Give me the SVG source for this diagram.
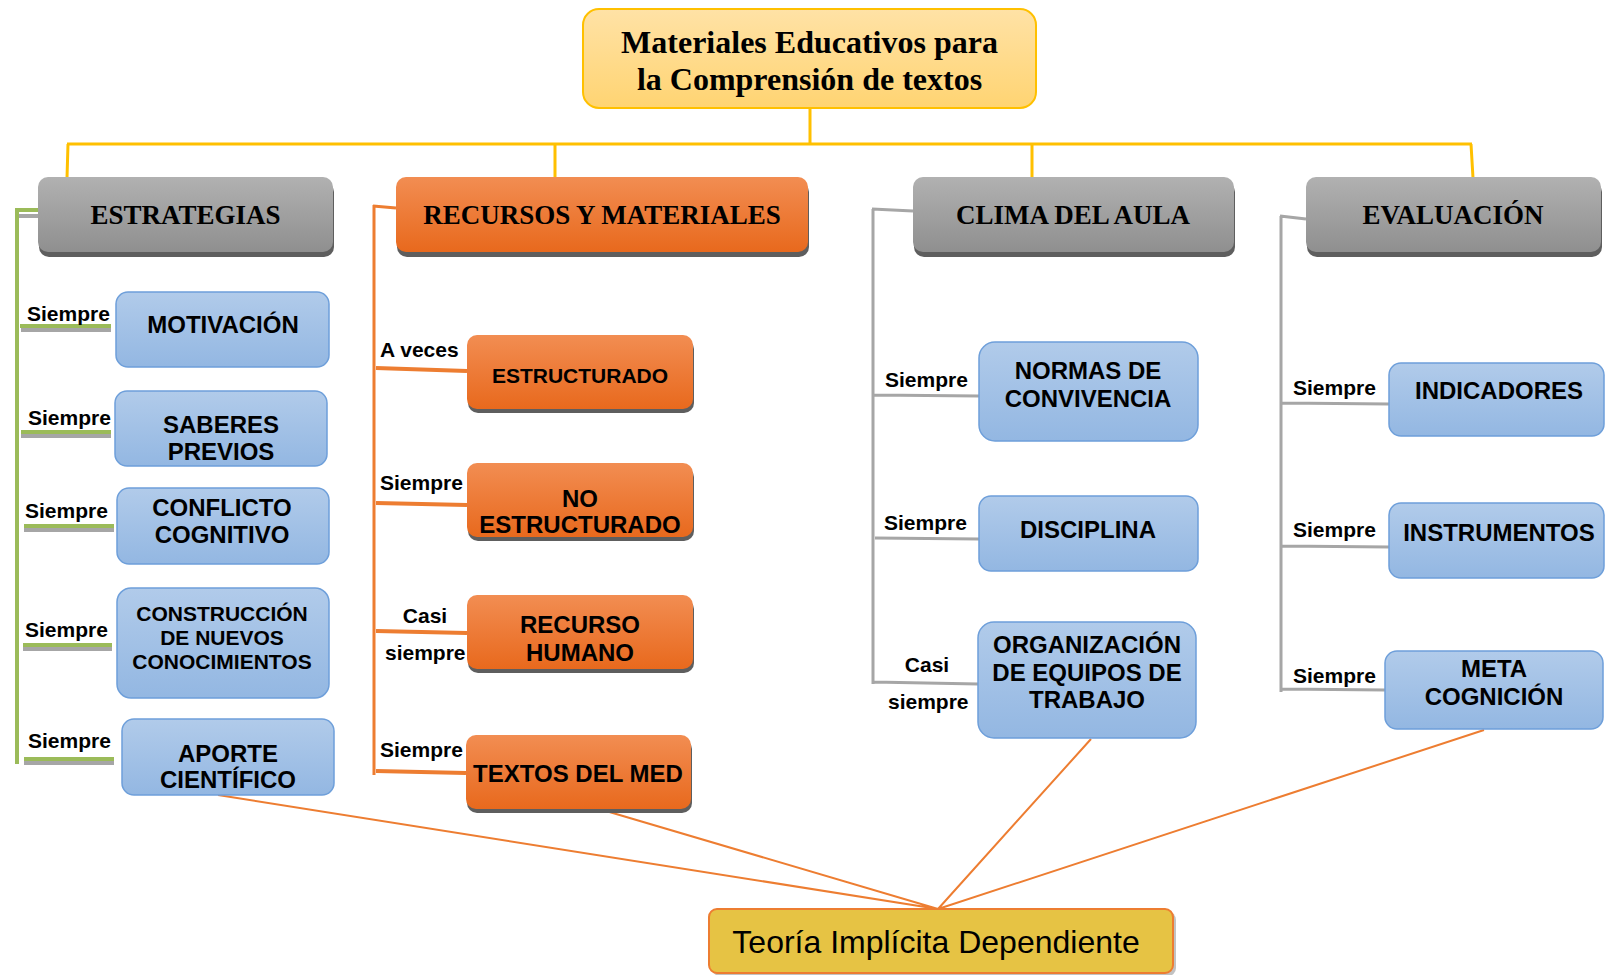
<svg xmlns="http://www.w3.org/2000/svg" width="1605" height="975" viewBox="0 0 1605 975">
<defs>
<linearGradient id="gGray" x1="0" y1="0" x2="0" y2="1"><stop offset="0" stop-color="#B1B1B1"/><stop offset="1" stop-color="#8F8F8F"/></linearGradient>
<linearGradient id="gOrange" x1="0" y1="0" x2="0" y2="1"><stop offset="0" stop-color="#F28D52"/><stop offset="1" stop-color="#E8691D"/></linearGradient>
<linearGradient id="gBlue" x1="0" y1="0" x2="0" y2="1"><stop offset="0" stop-color="#B1CBEA"/><stop offset="1" stop-color="#93B7E2"/></linearGradient>
<linearGradient id="gTitle" x1="0" y1="0" x2="0" y2="1"><stop offset="0" stop-color="#FFE2A6"/><stop offset="1" stop-color="#FFD472"/></linearGradient>
<style>
.head{font-family:"Liberation Serif","Times New Roman",serif;font-weight:bold;font-size:27px;fill:#000;text-anchor:middle}
.title{font-family:"Liberation Serif","Times New Roman",serif;font-weight:bold;font-size:32px;fill:#000;text-anchor:middle}
.nt{font-family:"Liberation Sans",Arial,sans-serif;font-weight:bold;font-size:24px;fill:#000;text-anchor:middle}
.lbl{font-family:"Liberation Sans",Arial,sans-serif;font-weight:bold;font-size:21px;fill:#000}
.shadow{fill:#5E5E5E}
.grayBox{fill:url(#gGray)}
.orBox{fill:url(#gOrange)}
.blueBox{fill:url(#gBlue);stroke:#6E9FDA;stroke-width:1.5}
.yl{stroke:#FFC000;stroke-width:3;fill:none}
.gr{stroke:#9BBB59;stroke-width:4;fill:none}
.grs{stroke:#A6A6A6;stroke-width:4;fill:none}
.or{stroke:#ED7D31;stroke-width:3;fill:none}
.orb{stroke:#ED7D31;stroke-width:4;fill:none}
.gy{stroke:#A6A6A6;stroke-width:3;fill:none}
.ol{stroke:#ED7D31;stroke-width:2;fill:none}
</style>
</defs>
<rect width="1605" height="975" fill="#FFFFFF"/>

<g id="connectors">
  <path class="yl" d="M810 108 V144 M67 144 H1472 M68 144 L67 178 M555 144 V178 M1032 144 V178 M1471 144 L1473 178"/>
  <path class="grs" d="M19 216 H39 M21 330 H111 M21 436 H111 M24 530 H114 M23 649 H112 M24 763 H114"/>
  <path class="gr" d="M17 210 V764 M15 210 H39 M20 326 H111 M21 432 H111 M24 526 H114 M23 645 H112 M24 759 H114"/>
  <path class="or" d="M374 205 V775 M373 206 L396 208"/>
  <path class="orb" d="M376 368 L467 371 M376 503 L467 505 M376 631 L467 633 M376 771 L466 773"/>
  <path class="gy" d="M873 209 V684 M872 209 L913 211 M874 395 L979 396 M875 538 L979 539 M873 682 L978 684"/>
  <path class="gy" d="M1281 216 V692 M1280 216 L1306 219 M1282 403 L1389 404 M1282 546 L1389 547 M1282 689 L1385 690"/>
  <path class="ol" d="M218 795 L938 909 M606 811 L938 909 M1091 739 L938 909 M1484 730 L938 909"/>
</g>

<g id="n-title">
  <rect x="583" y="9" width="453" height="99" rx="16" fill="url(#gTitle)" stroke="#FFC000" stroke-width="2"/>
  <text class="title" x="809.5" y="53">Materiales Educativos para</text>
  <text class="title" x="809.5" y="90">la Comprensión de textos</text>
</g>

<g id="n-estrategias">
  <rect class="shadow" x="39" y="182" width="295" height="75" rx="10"/>
  <rect class="grayBox" x="38" y="177" width="295" height="75" rx="10"/>
  <text class="head" x="185.5" y="224">ESTRATEGIAS</text>
</g>
<g id="n-recursos">
  <rect class="shadow" x="397" y="182" width="412" height="75" rx="10"/>
  <rect class="orBox" x="396" y="177" width="412" height="75" rx="10"/>
  <text class="head" x="602" y="224">RECURSOS Y MATERIALES</text>
</g>
<g id="n-clima">
  <rect class="shadow" x="914" y="182" width="321" height="75" rx="10"/>
  <rect class="grayBox" x="913" y="177" width="321" height="75" rx="10"/>
  <text class="head" x="1073" y="224">CLIMA DEL AULA</text>
</g>
<g id="n-evaluacion">
  <rect class="shadow" x="1307" y="182" width="295" height="75" rx="10"/>
  <rect class="grayBox" x="1306" y="177" width="295" height="75" rx="10"/>
  <text class="head" x="1453" y="224">EVALUACIÓN</text>
</g>

<g id="n-motivacion">
  <rect class="blueBox" x="116" y="292" width="213" height="75" rx="12"/>
  <text class="nt" x="223" y="333">MOTIVACIÓN</text>
  <text class="lbl" x="27" y="321">Siempre</text>
</g>
<g id="n-saberes">
  <rect class="blueBox" x="115" y="391" width="212" height="75" rx="12"/>
  <text class="nt" x="221" y="433">SABERES</text>
  <text class="nt" x="221" y="460">PREVIOS</text>
  <text class="lbl" x="28" y="425">Siempre</text>
</g>
<g id="n-conflicto">
  <rect class="blueBox" x="117" y="488" width="212" height="76" rx="12"/>
  <text class="nt" x="222" y="516">CONFLICTO</text>
  <text class="nt" x="222" y="543">COGNITIVO</text>
  <text class="lbl" x="25" y="518">Siempre</text>
</g>
<g id="n-construccion">
  <rect class="blueBox" x="117" y="588" width="212" height="110" rx="14"/>
  <text class="nt" x="222" y="621" style="font-size:21px">CONSTRUCCIÓN</text>
  <text class="nt" x="222" y="645" style="font-size:21px">DE NUEVOS</text>
  <text class="nt" x="222" y="669" style="font-size:21px">CONOCIMIENTOS</text>
  <text class="lbl" x="25" y="637">Siempre</text>
</g>
<g id="n-aporte">
  <rect class="blueBox" x="122" y="719" width="212" height="76" rx="12"/>
  <text class="nt" x="228" y="762">APORTE</text>
  <text class="nt" x="228" y="788">CIENTÍFICO</text>
  <text class="lbl" x="28" y="748">Siempre</text>
</g>

<g id="n-estructurado">
  <rect class="shadow" x="468" y="339" width="226" height="74" rx="10"/>
  <rect class="orBox" x="467" y="335" width="226" height="74" rx="10"/>
  <text class="nt" x="580" y="383" style="font-size:21px">ESTRUCTURADO</text>
  <text class="lbl" x="380" y="357">A veces</text>
</g>
<g id="n-noestructurado">
  <rect class="shadow" x="468" y="467" width="226" height="74" rx="10"/>
  <rect class="orBox" x="467" y="463" width="226" height="74" rx="10"/>
  <text class="nt" x="580" y="507">NO</text>
  <text class="nt" x="580" y="533">ESTRUCTURADO</text>
  <text class="lbl" x="380" y="490">Siempre</text>
</g>
<g id="n-recursohumano">
  <rect class="shadow" x="468" y="599" width="226" height="74" rx="10"/>
  <rect class="orBox" x="467" y="595" width="226" height="74" rx="10"/>
  <text class="nt" x="580" y="633">RECURSO</text>
  <text class="nt" x="580" y="661">HUMANO</text>
  <text class="lbl" x="425" y="623" text-anchor="middle">Casi</text>
  <text class="lbl" x="385" y="660">siempre</text>
</g>
<g id="n-textos">
  <rect class="shadow" x="467" y="739" width="225" height="74" rx="10"/>
  <rect class="orBox" x="466" y="735" width="225" height="74" rx="10"/>
  <text class="nt" x="578" y="782">TEXTOS DEL MED</text>
  <text class="lbl" x="380" y="757">Siempre</text>
</g>

<g id="n-normas">
  <rect class="blueBox" x="979" y="342" width="219" height="99" rx="16"/>
  <text class="nt" x="1088" y="379">NORMAS DE</text>
  <text class="nt" x="1088" y="407">CONVIVENCIA</text>
  <text class="lbl" x="885" y="387">Siempre</text>
</g>
<g id="n-disciplina">
  <rect class="blueBox" x="979" y="496" width="219" height="75" rx="12"/>
  <text class="nt" x="1088" y="538">DISCIPLINA</text>
  <text class="lbl" x="884" y="530">Siempre</text>
</g>
<g id="n-organizacion">
  <rect class="blueBox" x="978" y="622" width="218" height="116" rx="16"/>
  <text class="nt" x="1087" y="653">ORGANIZACIÓN</text>
  <text class="nt" x="1087" y="681">DE EQUIPOS DE</text>
  <text class="nt" x="1087" y="708">TRABAJO</text>
  <text class="lbl" x="927" y="672" text-anchor="middle">Casi</text>
  <text class="lbl" x="888" y="709">siempre</text>
</g>

<g id="n-indicadores">
  <rect class="blueBox" x="1389" y="363" width="215" height="73" rx="12"/>
  <text class="nt" x="1499" y="399">INDICADORES</text>
  <text class="lbl" x="1293" y="395">Siempre</text>
</g>
<g id="n-instrumentos">
  <rect class="blueBox" x="1389" y="503" width="215" height="75" rx="12"/>
  <text class="nt" x="1499" y="541">INSTRUMENTOS</text>
  <text class="lbl" x="1293" y="537">Siempre</text>
</g>
<g id="n-meta">
  <rect class="blueBox" x="1385" y="651" width="218" height="78" rx="12"/>
  <text class="nt" x="1494" y="677">META</text>
  <text class="nt" x="1494" y="705">COGNICIÓN</text>
  <text class="lbl" x="1293" y="683">Siempre</text>
</g>

<g id="n-teoria">
  <rect x="712" y="912" width="464" height="64" rx="8" fill="#9A9A9A" opacity="0.6"/>
  <rect x="709" y="909" width="464" height="64" rx="8" fill="#E6C344" stroke="#ED7D31" stroke-width="2"/>
  <text x="936" y="953" style="font-family:'Liberation Sans',Arial,sans-serif;font-size:32px;fill:#000;text-anchor:middle">Teoría Implícita Dependiente</text>
</g>
</svg>
